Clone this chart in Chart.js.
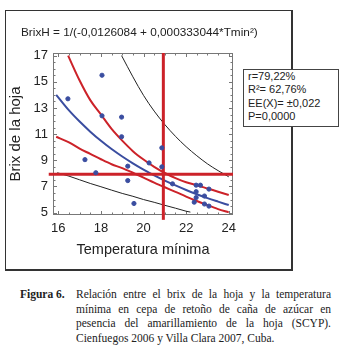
<!DOCTYPE html>
<html>
<head>
<meta charset="utf-8">
<script src="https://cdn.jsdelivr.net/npm/chart.js@4"></script>
<style>
body { margin: 0; background: #fff; width: 344px; height: 355px; position: relative; overflow: hidden; font-family: "Liberation Sans", Arial, sans-serif; color: #222; }
#marco { position: absolute; left: 5px; top: 10px; width: 288px; height: 261px; box-sizing: border-box; border: 1px solid #333; border-right: 2px solid #333; border-bottom: 2px solid #333; }
#grafico { position: absolute; left: 5px; top: 10px; }
#ecuacion { position: absolute; left: 21px; top: 25px; font-size: 11.8px; line-height: 14px; white-space: nowrap; }
#stats { position: absolute; left: 243px; top: 69px; width: 96px; height: 58px; box-sizing: border-box; border: 1px solid #444; background: #fff; padding: 0 0 0 4px; font-size: 11px; line-height: 13.3px; }
#fig { position: absolute; left: 20px; top: 287px; font: bold 11.5px "Liberation Serif", "Times New Roman", serif; line-height: 14.7px; }
#texto { position: absolute; left: 76px; top: 287px; width: 255px; font: 11.5px "Liberation Serif", "Times New Roman", serif; line-height: 14.7px; }
#texto .j { text-align: justify; text-align-last: justify; white-space: nowrap; }
</style>
</head>
<body>
<div id="marco"></div>
<canvas id="grafico" width="288" height="261"></canvas>
<div id="ecuacion">BrixH = 1/(-0,0126084 + 0,000333044*Tmin²)</div>
<div id="stats">
  <div>r=79,22%</div>
  <div>R²= 62,76%</div>
  <div>EE(X)= ±0,022</div>
  <div>P=0,0000</div>
</div>
<div id="fig">Figura 6.</div>
<div id="texto">
  <div class="j">Relación entre el brix de la hoja y la temperatura</div>
  <div class="j">mínima en cepa de retoño de caña de azúcar en</div>
  <div class="j">pesencia del amarillamiento de la hoja (SCYP).</div>
  <div>Cienfuegos 2006 y Villa Clara 2007, Cuba.</div>
</div>
<script>
// puntos observados (temperatura mínima, brix de la hoja)
var tminObs = [16.45, 18.05, 18.05, 18.97, 18.97, 17.25, 17.76, 19.26, 19.26, 19.55, 20.26, 20.86, 20.86, 21.36,
               22.47, 22.67, 23.07, 22.47, 22.86, 22.47, 22.38, 22.86, 23.07];
var brixObs = [13.7, 15.5, 12.4, 12.3, 10.8, 9.05, 8.05, 8.55, 7.45, 5.7, 8.8, 9.95, 8.5, 7.2,
               7.1, 7.1, 6.8, 6.6, 6.27, 6.15, 5.8, 5.66, 5.5];

// curva ajustada (azul) y limites de confianza (rojo)
var tminCurva = [15.9, 16.5, 17, 17.5, 18, 18.5, 19, 19.5, 20, 20.5, 21, 21.5, 22, 22.5, 23, 23.5, 24];
var brixAjuste = [14.0, 12.81, 11.96, 11.19, 10.49, 9.86, 9.29, 8.77, 8.29, 7.85, 7.45, 7.08, 6.73, 6.41, 6.11, 5.84, 5.58];
var brixConfInf = [10.8, 10.37, 9.89, 9.49, 9.08, 8.7, 8.4, 8.05, 7.68, 7.3, 6.94, 6.59, 6.23, 5.89, 5.57, 5.27, 5.02];

var tminConfSup = [16.46, 17, 17.5, 18, 18.5, 19, 19.5, 20, 20.5, 21, 21.5, 22, 22.5, 23, 23.5, 24];
var brixConfSup = [17.0, 15.1, 13.6, 12.5, 11.4, 10.5, 9.7, 9.06, 8.5, 8.03, 7.64, 7.32, 7.1, 6.85, 6.6, 6.35];

// limites de prediccion (negro)
var tminPredSup = [18.97, 19.5, 20, 20.5, 21, 21.5, 22, 22.5, 23, 23.5, 24];
var brixPredSup = [17.0, 15.38, 13.96, 12.76, 11.73, 10.83, 10.04, 9.35, 8.73, 8.21, 7.74];
var tminPredInf = [15.95, 16.5, 17, 17.5, 18, 18.5, 19, 19.5, 20, 20.5, 21, 21.5, 22, 22.2];
var brixPredInf = [8.05, 7.79, 7.51, 7.23, 6.98, 6.72, 6.47, 6.25, 6.0, 5.79, 5.56, 5.34, 5.11, 5.04];

// lineas de referencia
var limiteBrix = 7.93;
var limiteTmin = 20.93;
var extremosTmin = [15.55, 24.2];
var extremosBrix = [4.45, 17.2];

// marcas de los ejes
var xMarcas = [16, 18, 20, 22, 24];
var yMarcas = [5, 7, 9, 11, 13, 15, 17];

function pares(xs, ys) {
    return xs.map(function(v, i) {
        return { x: v, y: ys[i] };
    });
}

var rojo = '#cc2229';
var azul = '#3a4da0';

// marco con marcas hacia dentro
var marcoPlugin = {
    id: 'marcoPlugin',
    beforeDatasetsDraw: function(chart) {
        var ctx = chart.ctx, a = chart.chartArea;
        var x = chart.scales.x, y = chart.scales.y;
        ctx.save();
        ctx.strokeStyle = '#777';
        ctx.lineWidth = 1;
        ctx.strokeRect(Math.round(a.left) + 0.5, Math.round(a.top) + 0.5, Math.round(a.width) - 1, Math.round(a.height) - 1);
        ctx.beginPath();
        for (var v = 16; v <= 24.001; v += 0.5) {
            var px = Math.round(x.getPixelForValue(v)) + 0.5;
            var l = (v % 2 === 0) ? 4 : 2.5;
            ctx.moveTo(px, a.bottom); ctx.lineTo(px, a.bottom - l);
            ctx.moveTo(px, a.top); ctx.lineTo(px, a.top + l);
        }
        for (var w = 5; w <= 17.001; w += 0.5) {
            var py = Math.round(y.getPixelForValue(w)) + 0.5;
            var m = (w % 2 === 1) ? 4 : 2.5;
            ctx.moveTo(a.left, py); ctx.lineTo(a.left + m, py);
            ctx.moveTo(a.right, py); ctx.lineTo(a.right - m, py);
        }
        ctx.stroke();
        ctx.restore();
    }
};

Chart.defaults.font.family = '"Liberation Sans", Arial, sans-serif';
Chart.defaults.color = '#222';

var ctx = document.getElementById('grafico');
new Chart(ctx, {
    type: 'scatter',
    data: {
        datasets: [
            {
                label: 'Observados',
                data: pares(tminObs, brixObs),
                backgroundColor: azul,
                borderColor: azul,
                pointRadius: 2.1,
                order: 0
            },
            {
                label: 'Brix limite',
                data: pares(extremosTmin, [limiteBrix, limiteBrix]),
                showLine: true, borderColor: rojo, borderWidth: 3, pointRadius: 0,
                clip: { left: 8, top: 2, right: 2, bottom: 8 },
                order: 1
            },
            {
                label: 'Tmin limite',
                data: pares([limiteTmin, limiteTmin], extremosBrix),
                showLine: true, borderColor: rojo, borderWidth: 3, pointRadius: 0,
                clip: { left: 8, top: 2, right: 2, bottom: 8 },
                order: 1
            },
            {
                label: 'Ajuste',
                data: pares(tminCurva, brixAjuste),
                showLine: true, borderColor: azul, borderWidth: 2, pointRadius: 0,
                cubicInterpolationMode: 'monotone',
                order: 2
            },
            {
                label: 'Conf sup',
                data: pares(tminConfSup, brixConfSup),
                showLine: true, borderColor: rojo, borderWidth: 2, pointRadius: 0,
                cubicInterpolationMode: 'monotone',
                order: 3
            },
            {
                label: 'Conf inf',
                data: pares(tminCurva, brixConfInf),
                showLine: true, borderColor: rojo, borderWidth: 2, pointRadius: 0,
                cubicInterpolationMode: 'monotone',
                order: 3
            },
            {
                label: 'Pred sup',
                data: pares(tminPredSup, brixPredSup),
                showLine: true, borderColor: '#222', borderWidth: 1, pointRadius: 0,
                cubicInterpolationMode: 'monotone',
                order: 4
            },
            {
                label: 'Pred inf',
                data: pares(tminPredInf, brixPredInf),
                showLine: true, borderColor: '#222', borderWidth: 1, pointRadius: 0,
                cubicInterpolationMode: 'monotone',
                order: 4
            }
        ]
    },
    options: {
        responsive: false,
        animation: false,
        layout: { padding: { top: 43, right: 60, left: 0, bottom: 0 } },
        plugins: {
            legend: { display: false },
            tooltip: { enabled: false }
        },
        scales: {
            x: {
                type: 'linear',
                min: 15.75,
                max: 24.2,
                afterBuildTicks: function(scale) {
                    scale.ticks = xMarcas.map(function(v) { return { value: v }; });
                },
                afterFit: function(scale) { scale.height = 56; },
                grid: { display: false, drawTicks: false },
                border: { display: false },
                ticks: { padding: 6, font: { size: 13 } },
                title: {
                    display: true,
                    text: 'Temperatura mínima',
                    font: { size: 14.5 },
                    padding: { top: 0, bottom: 12 }
                }
            },
            y: {
                type: 'linear',
                min: 4.82,
                max: 17.2,
                afterBuildTicks: function(scale) {
                    scale.ticks = yMarcas.map(function(v) { return { value: v }; });
                },
                afterFit: function(scale) { scale.width = 48; },
                grid: { display: false, drawTicks: false },
                border: { display: false },
                ticks: { padding: 5, font: { size: 13 } },
                title: {
                    display: true,
                    text: 'Brix de la hoja',
                    font: { size: 15 },
                    padding: { top: 2, bottom: 0 }
                }
            }
        }
    },
    plugins: [marcoPlugin]
});
</script>
</body>
</html>
